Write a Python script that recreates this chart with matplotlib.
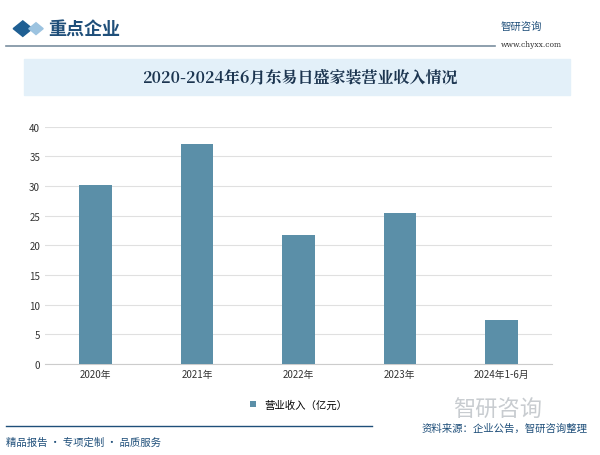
import matplotlib.pyplot as plt
from matplotlib.patches import Rectangle, Polygon

plt.rcParams['font.family'] = 'Noto Sans CJK SC'

categories = ['2020年', '2021年', '2022年', '2023年', '2024年1-6月']
revenue = [30.2, 37.0, 21.8, 25.4, 7.4]
yticks = [0, 5, 10, 15, 20, 25, 30, 35, 40]

BAR = '#5b8fa8'
fig = plt.figure(figsize=(6, 4.56), dpi=100)

# header
fig.patches.append(Polygon([[0.022, 0.935], [0.038, 0.952], [0.054, 0.935], [0.038, 0.918]],
                           closed=True, transform=fig.transFigure, color='#1f5f93'))
fig.patches.append(Polygon([[0.048, 0.935], [0.060, 0.948], [0.072, 0.935], [0.060, 0.922]],
                           closed=True, transform=fig.transFigure, color='#9cc3e0'))
fig.text(0.08, 0.935, '重点企业', fontsize=13, color='#1f4f7a', va='center', fontweight='bold')
fig.text(0.835, 0.94, '智研咨询', fontsize=7.5, color='#1f4f7a', va='center')
fig.text(0.835, 0.902, 'www.chyxx.com', fontsize=5.5, color='#333333', va='center', family='DejaVu Serif')
fig.add_artist(plt.Line2D([0.01, 0.825], [0.897, 0.897], color='#7a8fa0', lw=1.2))

# title bar
fig.patches.append(Rectangle((0.04, 0.79), 0.91, 0.078, transform=fig.transFigure,
                             color='#e3f0f9', zorder=0))
fig.text(0.5, 0.829, '2020-2024年6月东易日盛家装营业收入情况', fontsize=11.5, color='#1c3550',
         ha='center', va='center', fontweight='bold', family='Noto Serif CJK SC')

ax = fig.add_axes([0.075, 0.2, 0.845, 0.52])
x = range(len(categories))
ax.bar(x, revenue, width=0.32, color=BAR, label='营业收入（亿元）', zorder=3)
ax.set_xticks(list(x))
ax.set_xticklabels(categories, fontsize=7)
ax.set_yticks(yticks)
ax.set_ylim(0, 40)
ax.set_xlim(-0.5, 4.5)
ax.tick_params(axis='y', labelsize=7, length=0, colors='#333333')
ax.tick_params(axis='x', length=0, colors='#333333')
ax.grid(axis='y', color='#e0e0e0', lw=0.8, zorder=0)
for s in ['top', 'right', 'left']:
    ax.spines[s].set_visible(False)
ax.spines['bottom'].set_color('#cccccc')
ax.legend(loc='upper center', bbox_to_anchor=(0.5, -0.11), frameon=False, fontsize=7.5,
          handlelength=0.6, handleheight=0.6)

# footer
fig.add_artist(plt.Line2D([0.01, 0.62], [0.063, 0.063], color='#1f4f7a', lw=1))
fig.text(0.01, 0.03, '精品报告 · 专项定制 · 品质服务', fontsize=7.5, color='#1f4f7a', va='center')
fig.text(0.98, 0.06, '资料来源：企业公告，智研咨询整理', fontsize=7.5, color='#1f4f7a', va='center', ha='right')
fig.text(0.83, 0.1, '智研咨询', fontsize=16, color='#c8ccd0', va='center', ha='center')

fig.savefig('out.png', dpi=100)
